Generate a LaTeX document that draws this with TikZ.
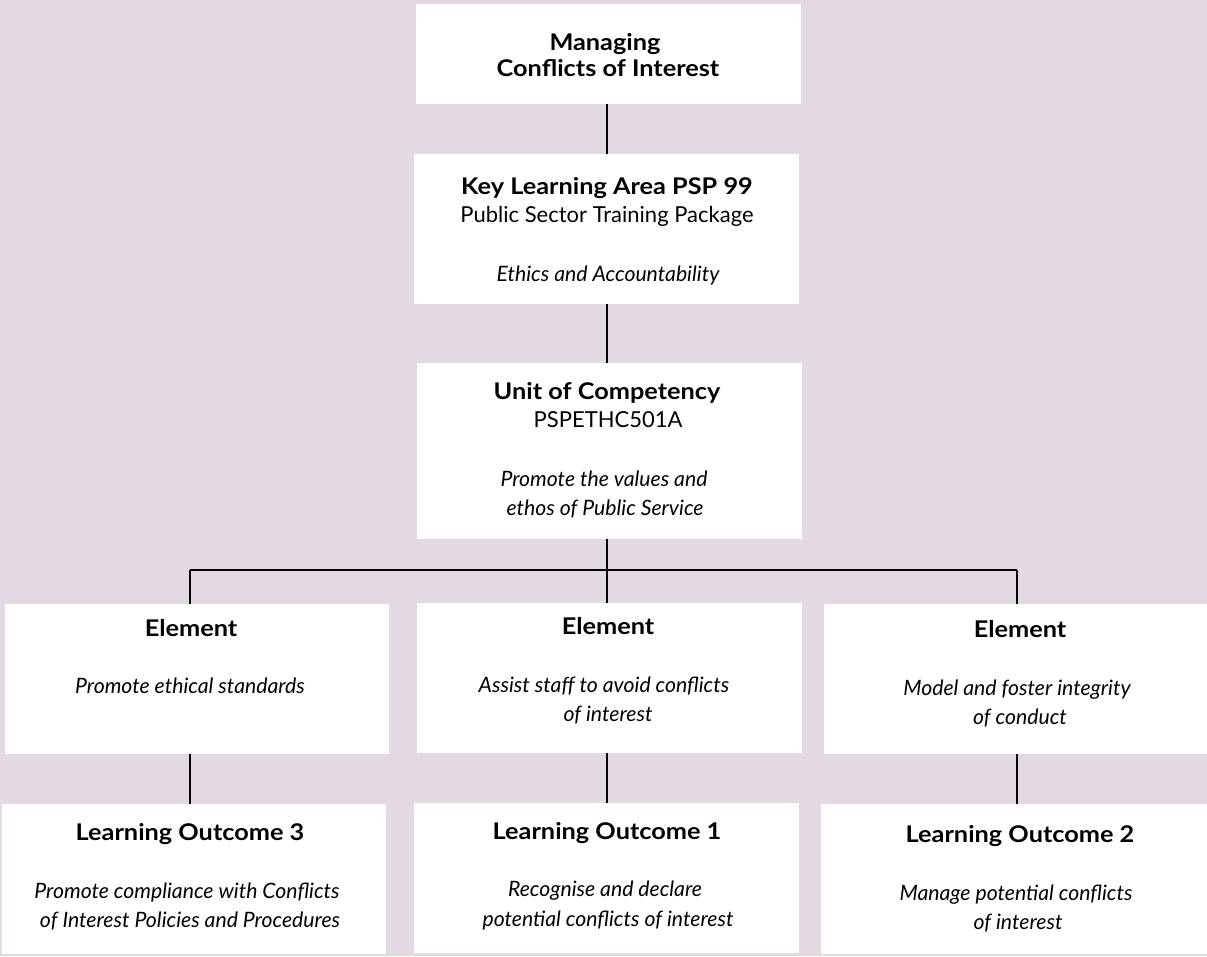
\documentclass[tikz,border=0pt]{standalone}
\usepackage{fontspec}
\setmainfont{Lato}
\newfontfamily\wideboldfont[FakeStretch=1.1]{Lato Bold}
\definecolor{bgmauve}{RGB}{227,217,227}
\begin{document}
\begin{tikzpicture}[x=1pt,y=-1pt,
  box/.style={fill=white,draw=none,inner sep=0pt,anchor=north west},
  txt/.style={inner sep=0pt,anchor=base,font=\fontsize{22}{26}\selectfont},
  btxt/.style={txt,font=\fontsize{23}{27}\selectfont\wideboldfont},
  itxt/.style={txt,font=\fontsize{21.2}{25}\selectfont\itshape},
  conn/.style={draw=black,line width=1.2pt}]
\fill[bgmauve] (0,0) rectangle (1207,956);
\useasboundingbox (0,0) rectangle (1207,956);
% boxes
\node[box,minimum width=385pt,minimum height=100pt] (top) at (416,4) {};
\node[box,minimum width=385pt,minimum height=150pt] (kla) at (414,154) {};
\node[box,minimum width=385pt,minimum height=176pt] (uoc) at (417,363) {};
\node[box,minimum width=384pt,minimum height=150pt] (e1) at (5,604) {};
\node[box,minimum width=385pt,minimum height=150pt] (e2) at (417,603) {};
\node[box,minimum width=383pt,minimum height=150pt] (e3) at (824,604) {};
\node[box,minimum width=384pt,minimum height=150pt] (lo3) at (2,804) {};
\node[box,minimum width=385pt,minimum height=150pt] (lo1) at (414,803) {};
\node[box,minimum width=386pt,minimum height=150pt] (lo2) at (821,804) {};
% connectors
\coordinate (cx) at (607,0);
\coordinate (j1) at (190,570);
\coordinate (j2) at (607,570);
\coordinate (j3) at (1017,570);
\draw[conn] (top.south -| cx) -- (kla.north -| cx);
\draw[conn] (kla.south -| cx) -- (uoc.north -| cx);
\draw[conn] (uoc.south -| cx) -- (j2);
\draw[conn] (j1) -- (j3);
\draw[conn] (j1) -- (j1 |- e1.north);
\draw[conn] (j2) -- (j2 |- e2.north);
\draw[conn] (j3) -- (j3 |- e3.north);
\draw[conn] (j1 |- e1.south) -- (j1 |- lo3.north);
\draw[conn] (j2 |- e2.south) -- (j2 |- lo1.north);
\draw[conn] (j3 |- e3.south) -- (j3 |- lo2.north);
% texts
\node[btxt] (t1a) at (605,50) {Managing};
\node[btxt] (t1b) at (608,76) {Conflicts of Interest};
\node[btxt] (t2a) at (607,194) {Key Learning Area PSP 99};
\node[txt] (t2b) at (607,222) {Public Sector Training Package};
\node[itxt] (t2c) at (608,281) {Ethics and Accountability};
\node[btxt] (t3a) at (607,399) {Unit of Competency};
\node[txt] (t3b) at (608,427) {PSPETHC501A};
\node[itxt] (t3c) at (604,486) {Promote the values and};
\node[itxt] (t3d) at (605,515) {ethos of Public Service};
\node[btxt] (e1a) at (191,636) {Element};
\node[itxt] (e1b) at (190,693) {Promote ethical standards};
\node[btxt] (e2a) at (608,634) {Element};
\node[itxt] (e2b) at (604,692) {Assist staff to avoid conflicts};
\node[itxt] (e2c) at (608,721) {of interest};
\node[btxt] (e3a) at (1020,637) {Element};
\node[itxt] (e3b) at (1017,695) {Model and foster integrity};
\node[itxt] (e3c) at (1020,724) {of conduct};
\node[btxt] (l3a) at (190,840) {Learning Outcome 3};
\node[itxt] (l3b) at (187,898) {Promote compliance with Conflicts};
\node[itxt] (l3c) at (190,927) {of Interest Policies and Procedures};
\node[btxt] (l1a) at (607,839) {Learning Outcome 1};
\node[itxt] (l1b) at (605,896) {Recognise and declare};
\node[itxt] (l1c) at (608,926) {potential conflicts of interest};
\node[btxt] (l2a) at (1020,842) {Learning Outcome 2};
\node[itxt] (l2b) at (1016,900) {Manage potential conflicts};
\node[itxt] (l2c) at (1018,929) {of interest};
\end{tikzpicture}
\end{document}
